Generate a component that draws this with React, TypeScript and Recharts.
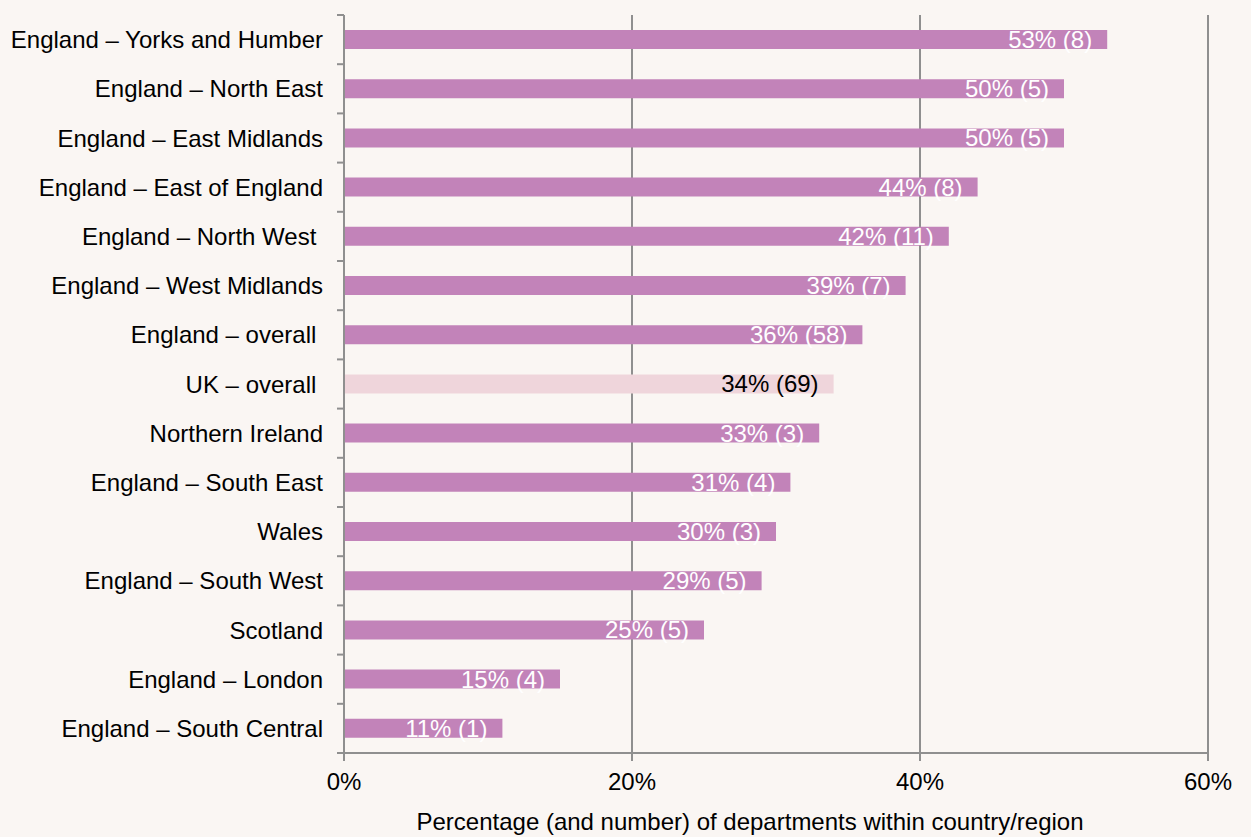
import React from "react";
import { BarChart, Bar, XAxis, YAxis, CartesianGrid, LabelList, Cell } from "recharts";

const categories = [
  "England – Yorks and Humber",
  "England – North East",
  "England – East Midlands",
  "England – East of England",
  "England – North West ",
  "England – West Midlands",
  "England – overall ",
  "UK – overall ",
  "Northern Ireland",
  "England – South East",
  "Wales",
  "England – South West",
  "Scotland",
  "England – London",
  "England – South Central",
];
const percents = [53, 50, 50, 44, 42, 39, 36, 34, 33, 31, 30, 29, 25, 15, 11];
const counts = [8, 5, 5, 8, 11, 7, 58, 69, 3, 4, 3, 5, 5, 4, 1];
const xTicks = [0, 20, 40, 60];
const highlight = "UK – overall ";

const data = categories.map((c, i) => ({ name: c, value: percents[i], count: counts[i] }));

const W = 1251;
const H = 837;
const M = { top: 15, right: 43, bottom: 0, left: 0 };
const YW = 344;
const XH = 84;
const BAND = (H - M.top - M.bottom - XH) / categories.length;
const FONT = "'Liberation Sans', Arial, sans-serif";
const FS = 24;
const GREY = "#8f8f8f";

const YTick = (props: any) => {
  const { x, y, payload, index } = props;
  const ax = x + 21;
  return (
    <g>
      <line x1={ax - 7} x2={ax} y1={y - BAND / 2} y2={y - BAND / 2} stroke={GREY} strokeWidth={2} />
      {index === categories.length - 1 && (
        <line x1={ax - 7} x2={ax} y1={y + BAND / 2} y2={y + BAND / 2} stroke={GREY} strokeWidth={2} />
      )}
      <text x={x} y={y} dy={8.5} textAnchor="end" fill="#000" fontSize={FS} fontFamily={FONT} style={{ whiteSpace: "pre" }}>
        {payload.value}
      </text>
    </g>
  );
};

const BarLabel = (props: any) => {
  const { x, y, width, height, index } = props;
  const d = data[index];
  const isHi = d.name === highlight;
  return (
    <text
      x={x + width - 15}
      y={y + height / 2}
      dy={8.5}
      textAnchor="end"
      fill={isHi ? "#000" : "#fff"}
      fontSize={FS}
      fontFamily={FONT}
    >
      {`${d.value}% (${d.count})`}
    </text>
  );
};

export default function App() {
  return (
    <div style={{ position: "absolute", left: 0, top: 0, width: W, height: H, background: "#faf6f3" }}>
      <BarChart width={W} height={H} data={data} layout="vertical" margin={M} barCategoryGap={0}>
        <CartesianGrid horizontal={false} vertical={true} stroke={GREY} strokeWidth={2} />
        <XAxis
          type="number"
          domain={[0, 60]}
          ticks={xTicks}
          tickFormatter={(v: number) => `${v}%`}
          height={XH}
          axisLine={{ stroke: GREY, strokeWidth: 2 }}
          tickLine={{ stroke: GREY, strokeWidth: 2 }}
          tickSize={8}
          tickMargin={12}
          tick={{ fill: "#000", fontSize: FS, fontFamily: FONT }}
          label={{
            value: "Percentage (and number) of departments within country/region",
            position: "insideBottom",
            offset: 7,
            dx: -26,
            fill: "#000",
            fontSize: FS,
            fontFamily: FONT,
          }}
        />
        <YAxis
          type="category"
          dataKey="name"
          width={YW}
          axisLine={{ stroke: GREY, strokeWidth: 2 }}
          tickLine={false}
          tickSize={0}
          tickMargin={21}
          interval={0}
          tick={<YTick />}
        />
        <Bar dataKey="value" barSize={19} isAnimationActive={false}>
          {data.map((d, i) => (
            <Cell key={i} fill={d.name === highlight ? "#efd5db" : "#c283b9"} />
          ))}
          <LabelList dataKey="value" content={<BarLabel />} />
        </Bar>
      </BarChart>
    </div>
  );
}
